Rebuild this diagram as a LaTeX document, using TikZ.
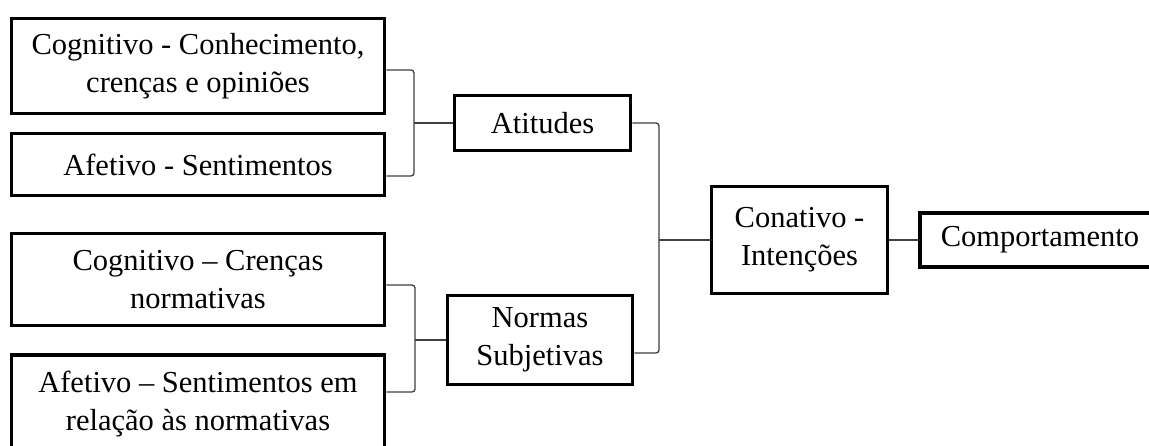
\documentclass[tikz,border=0pt]{standalone}
\usepackage{fontspec}
\setmainfont{Liberation Serif}
\begin{document}
\begin{tikzpicture}[x=1pt,y=-1pt,
  box/.style={draw=black, line width=3.8pt, align=center, inner sep=0pt,
    font=\fontsize{30.5}{38}\selectfont},
  conn/.style={draw=black!75, line width=1.3pt, rounded corners=3pt}]
\useasboundingbox (0,0) rectangle (1149,446);
\clip (0,0) rectangle (1149,446);
\fill[white] (0,0) rectangle (1149,446);
\node[box, minimum width=373pt, minimum height=95pt] (c1) at (198,66) {Cognitivo - Conhecimento,\\crenças e opiniões};
\node[box, minimum width=373pt, minimum height=62pt] (c2) at (198,164.5) {Afetivo - Sentimentos};
\node[box, minimum width=373pt, minimum height=92pt] (c3) at (198,279.5) {Cognitivo – Crenças\\normativas};
\node[box, minimum width=373pt, minimum height=98pt] (c4) at (198,404) {Afetivo – Sentimentos em\\relação às normativas};
\node[box, minimum width=176pt, minimum height=55pt] (ati) at (542.5,123) {Atitudes};
\node[box, minimum width=185pt, minimum height=89pt] (nor) at (540,340) {Normas\\Subjetivas};
\node[box, minimum width=176pt, minimum height=107pt] (con) at (799.5,240) {Conativo -\\Intenções};
\node[box, minimum width=240pt, minimum height=54pt] (com) at (1040,240) {Comportamento};
\coordinate (j1) at (414,123);
\coordinate (j2) at (659,240);
\coordinate (j3) at (415,340);
\draw[conn] ([yshift=-4pt]c1.east) -| (j1) |- ([yshift=-11.5pt]c2.east);
\draw[conn] (j1) -- (ati.west);
\draw[conn] ([yshift=-5.5pt]c3.east) -| (j3) |- ([yshift=12pt]c4.east);
\draw[conn] (j3) -- (nor.west);
\draw[conn] (ati.east) -| (j2) |- ([yshift=-13pt]nor.east);
\draw[conn] (j2) -- (con.west);
\draw[conn] (con.east) -- (com.west);
\end{tikzpicture}
\end{document}
